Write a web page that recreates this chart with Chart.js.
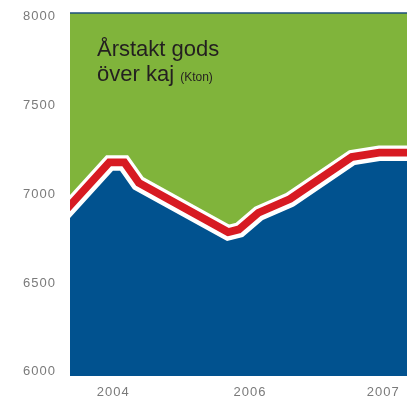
<!DOCTYPE html>
<html>
<head>
<meta charset="utf-8">
<script src="https://cdn.jsdelivr.net/npm/chart.js@4.4.1/dist/chart.umd.min.js"></script>
<style>
  html, body { margin: 0; padding: 0; background: #fff; }
  #wrap { position: relative; width: 407px; height: 403px; }
  #title {
    position: absolute; left: 97px; top: 36px;
    font-family: "Liberation Sans", Arial, sans-serif;
    font-size: 22px; line-height: 25px; color: #231f20;
  }
  #title small { font-size: 12px; }
</style>
</head>
<body>
<div id="wrap">
  <canvas id="chart" width="407" height="403"></canvas>
  <div id="title">Årstakt gods<br>över kaj <small>(Kton)</small></div>
</div>
<script>
// Goods volume over quay (Kton)
const periods = [0, 2.55, 2.97, 3.74, 9.32, 10.27, 11.45, 13.29, 16.91, 18.4, 20];
const values = [6866, 7131, 7131, 7028, 6736, 6759, 6855, 6931, 7164, 7187, 7187];

// x tick positions and labels
const tickPos = [2.57, 10.68, 18.59];
const tickLabels = ['2004', '2006', '2007'];

// y ticks
const yTicks = [6000, 6500, 7000, 7500, 8000];

const points = periods.map((p, i) => ({ x: p, y: values[i] }));

// green plot background + thin dark line on top
const background = {
  id: 'background',
  beforeDraw(chart) {
    const { ctx, chartArea: a } = chart;
    ctx.save();
    ctx.fillStyle = '#80b43b';
    ctx.fillRect(a.left, a.top, a.right - a.left, a.bottom - a.top);
    ctx.strokeStyle = '#1d4f7c';
    ctx.lineWidth = 1.5;
    ctx.beginPath();
    ctx.moveTo(a.left, a.top);
    ctx.lineTo(a.right, a.top);
    ctx.stroke();
    ctx.restore();
    ctx.letterSpacing = '1px';
  }
};

const band = (color, width) => ({
  data: points,
  borderColor: color,
  borderWidth: width,
  borderCapStyle: 'square',
  pointRadius: 0,
  fill: false,
  clip: 0
});

const ctx = document.getElementById('chart').getContext('2d');
const chart = new Chart(ctx, {
  type: 'line',
  data: {
    datasets: [
      {
        data: points,
        borderWidth: 0,
        borderColor: 'rgba(0,0,0,0)',
        backgroundColor: '#01528f',
        pointRadius: 0,
        fill: 'start',
        clip: 0
      },
      band('#ffffff', 9),
      band('#d71a22', 24.5),
      band('#ffffff', 31)
    ]
  },
  options: {
    responsive: false,
    animation: false,
    events: [],
    layout: { padding: { top: 13, left: 0, right: 0, bottom: 0 } },
    plugins: { legend: { display: false }, tooltip: { enabled: false } },
    scales: {
      x: {
        type: 'linear',
        min: 0,
        max: 20,
        grid: { display: false, drawTicks: false },
        border: { display: false },
        afterBuildTicks: s => { s.ticks = tickPos.map(v => ({ value: v })); },
        afterFit: s => { s.height = 27; s.paddingLeft = 0; s.paddingRight = 0; },
        ticks: {
          padding: 9,
          maxRotation: 0,
          autoSkip: false,
          color: '#7a7a7a',
          font: { family: 'Liberation Sans', size: 13 },
          callback: (v) => tickLabels[tickPos.indexOf(v)]
        }
      },
      y: {
        min: 5977,
        max: 8019,
        grid: { display: false, drawTicks: false },
        border: { display: false },
        afterBuildTicks: s => { s.ticks = yTicks.map(v => ({ value: v })); },
        afterFit: s => { s.width = 70; s.paddingTop = 0; s.paddingBottom = 0; },
        ticks: {
          padding: 14,
          color: '#7a7a7a',
          font: { family: 'Liberation Sans', size: 13 },
          callback: (v) => String(v)
        }
      }
    }
  },
  plugins: [background]
});
</script>
</body>
</html>
